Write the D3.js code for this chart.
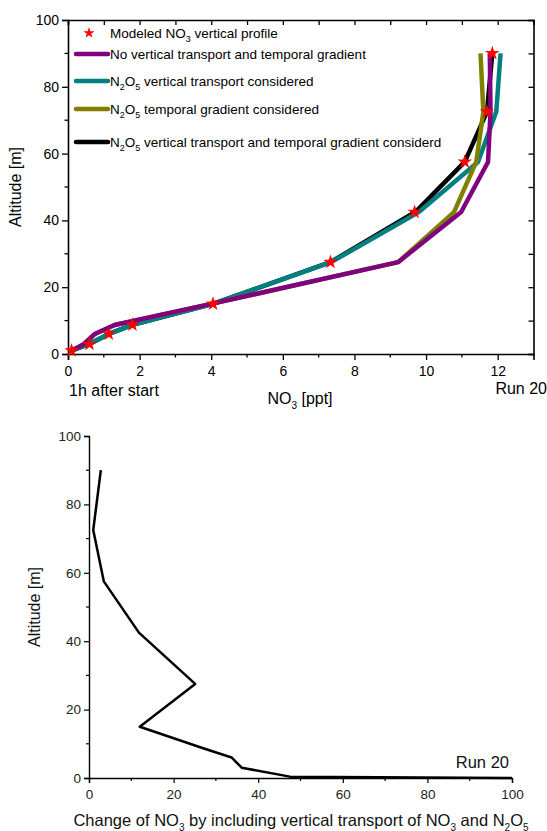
<!DOCTYPE html>
<html>
<head>
<meta charset="utf-8">
<script src="https://cdn.jsdelivr.net/npm/d3@7"></script>
<style>
  body { margin: 0; background: #fff; }
  svg { font-family: "Liberation Sans", Arial, sans-serif; }
</style>
</head>
<body>
<div id="chart"></div>
<script>
// altitude levels of the model [m]
const levels = [1, 3, 6, 8.7, 15, 27.5, 42.5, 57.5, 72.5, 90];

// NO3 [ppt] per scenario
const modeled   = [0.1, 0.6, 1.14, 1.8, 4.05, 7.33, 9.68, 11.08, 11.7, 11.85];
const noTransp  = [0.1, 0.45, 0.75, 1.3, 4.0, 9.22, 10.98, 11.73, 11.8, 11.78];
const vertTransp = [0.1, 0.58, 1.15, 1.8, 4.05, 7.35, 9.8, 11.45, 11.96, 12.08];
const tempGrad  = [0.1, 0.45, 0.75, 1.3, 4.0, 9.22, 10.78, 11.4, 11.6, 11.52];
const bothConsidered = [0.1, 0.6, 1.14, 1.8, 4.05, 7.33, 9.7, 11.08, 11.7, 11.85];

// lower panel: change of NO3 [%]
const changeAlt = [90, 72.5, 57.5, 42.5, 27.5, 15, 8.7, 6, 3, 0.4, 0];
const changeVal = [2.8, 1.0, 3.5, 11.8, 25.1, 12.0, 27.0, 33.7, 36.1, 47.5, 100];

const xTicksTop = [0, 2, 4, 6, 8, 10, 12];
const yTicks = [0, 20, 40, 60, 80, 100];
const xTicksBottom = [0, 20, 40, 60, 80, 100];

const W = 547, H = 831;

const svg = d3.select("#chart").append("svg")
    .attr("width", W)
    .attr("height", H);

// text with subscripts: parts = [[str, isSub], ...]
function richText(g, parts, subSize) {
    let prevSub = false;
    parts.forEach(p => {
        let t = g.append("tspan").text(p[0]);
        if (p[1]) {
            t.attr("font-size", subSize).attr("dy", prevSub ? 0 : subSize * 0.45);
        } else {
            t.attr("dy", prevSub ? -subSize * 0.45 : 0);
        }
        prevSub = !!p[1];
    });
    return g;
}

/* ---------- upper panel ---------- */
const mTop = {left: 68, right: 533.5, top: 20, bottom: 354};

const x1 = d3.scaleLinear().domain([0, 13]).range([mTop.left, mTop.right]);
const y1 = d3.scaleLinear().domain([0, 100]).range([mTop.bottom, mTop.top]);

const gTop = svg.append("g");

// box + ticks
gTop.append("g")
    .attr("transform", `translate(0,${mTop.bottom})`)
    .call(d3.axisBottom(x1).tickValues(xTicksTop).tickSize(6).tickPadding(6))
    .call(g => g.selectAll(".minor").data(d3.range(1, 13, 2)).enter()
        .append("line").attr("class", "minor")
        .attr("x1", d => x1(d)).attr("x2", d => x1(d))
        .attr("y1", 0).attr("y2", 3.5).attr("stroke", "#000").attr("stroke-width", 1.3));

gTop.append("g")
    .attr("transform", `translate(${mTop.left},0)`)
    .call(d3.axisLeft(y1).tickValues(yTicks).tickSize(6).tickPadding(3))
    .call(g => g.selectAll(".minor").data(d3.range(10, 100, 20)).enter()
        .append("line").attr("class", "minor")
        .attr("y1", d => y1(d)).attr("y2", d => y1(d))
        .attr("x1", 0).attr("x2", -3.5).attr("stroke", "#000").attr("stroke-width", 1.3));

gTop.append("g")
    .attr("transform", `translate(0,${mTop.top})`)
    .call(d3.axisBottom(x1).tickValues(d3.range(0, 14, 1)).tickSize(5).tickFormat(""));

gTop.append("g")
    .attr("transform", `translate(${mTop.right},0)`)
    .call(d3.axisLeft(y1).tickValues(d3.range(0, 101, 10)).tickSize(5).tickFormat(""));

gTop.selectAll(".domain").attr("stroke-width", 1.6).attr("stroke", "#000");
gTop.selectAll(".tick line").attr("stroke-width", 1.3);
gTop.selectAll(".tick text").attr("font-size", 14).attr("fill", "#000")
    .attr("font-family", "Liberation Sans, Arial, sans-serif");

// lines
const series = [
    {name: "both", vals: bothConsidered, color: "#000000"},
    {name: "vert", vals: vertTransp, color: "#008080"},
    {name: "temp", vals: tempGrad, color: "#808000"},
    {name: "none", vals: noTransp, color: "#800080"}
];

const line1 = d3.line()
    .x(d => x1(d[0]))
    .y(d => y1(d[1]));

gTop.selectAll(".profile")
    .data(series)
    .enter()
    .append("path")
    .attr("class", "profile")
    .attr("d", s => line1(s.vals.map((v, i) => [v, levels[i]])))
    .attr("fill", "none")
    .attr("stroke", s => s.color)
    .attr("stroke-width", 4.5)
    .attr("stroke-linejoin", "round");

const star = d3.symbol().type(d3.symbolStar).size(65);
gTop.selectAll(".star")
    .data(modeled.map((v, i) => [v, levels[i]]))
    .enter()
    .append("path")
    .attr("class", "star")
    .attr("d", star)
    .attr("transform", d => `translate(${x1(d[0])},${y1(d[1])})`)
    .attr("fill", "#ff0000");

// legend
const legend = gTop.append("g").attr("font-size", 13.5).attr("fill", "#000");
legend.append("path")
    .attr("d", d3.symbol().type(d3.symbolStar).size(40))
    .attr("transform", "translate(89,33)")
    .attr("fill", "#ff0000");

const legendRows = [
    {y: 33, color: null, parts: [["Modeled NO", 0], ["3", 1], [" vertical profile", 0]]},
    {y: 54, color: "#800080", parts: [["No vertical transport and temporal gradient", 0]]},
    {y: 81, color: "#008080", parts: [["N", 0], ["2", 1], ["O", 0], ["5", 1], [" vertical transport considered", 0]]},
    {y: 109, color: "#808000", parts: [["N", 0], ["2", 1], ["O", 0], ["5", 1], [" temporal gradient considered", 0]]},
    {y: 142, color: "#000000", parts: [["N", 0], ["2", 1], ["O", 0], ["5", 1], [" vertical transport and temporal gradient considerd", 0]]}
];

legendRows.forEach(r => {
    if (r.color) {
        legend.append("line")
            .attr("x1", 76).attr("x2", 108)
            .attr("y1", r.y).attr("y2", r.y)
            .attr("stroke", r.color).attr("stroke-width", 4.5)
            .attr("stroke-linecap", "round");
    }
    let t = legend.append("text").attr("x", 110).attr("y", r.y + 4.5);
    richText(t, r.parts, 9);
});

// axis titles
gTop.append("text")
    .attr("transform", `translate(21,${(mTop.top + mTop.bottom) / 2}) rotate(-90)`)
    .attr("text-anchor", "middle")
    .attr("font-size", 16)
    .text("Altitude [m]");

richText(gTop.append("text")
    .attr("x", 300).attr("y", 404)
    .attr("text-anchor", "middle")
    .attr("font-size", 16), [["NO", 0], ["3", 1], [" [ppt]", 0]], 10);

gTop.append("text")
    .attr("x", 69).attr("y", 396)
    .attr("font-size", 16)
    .text("1h after start");

gTop.append("text")
    .attr("x", 547).attr("y", 394)
    .attr("text-anchor", "end")
    .attr("font-size", 16)
    .text("Run 20");

/* ---------- lower panel ---------- */
const mBot = {left: 89, right: 512, top: 436, bottom: 778};

const x2 = d3.scaleLinear().domain([0, 100]).range([mBot.left, mBot.right]);
const y2 = d3.scaleLinear().domain([0, 100]).range([mBot.bottom, mBot.top]);

const gBot = svg.append("g");

gBot.append("g")
    .attr("transform", `translate(0,${mBot.bottom})`)
    .call(d3.axisBottom(x2).tickValues(xTicksBottom).tickSize(5).tickPadding(6))
    .call(g => g.selectAll(".minor").data(d3.range(10, 100, 20)).enter()
        .append("line").attr("class", "minor")
        .attr("x1", d => x2(d)).attr("x2", d => x2(d))
        .attr("y1", 0).attr("y2", 3).attr("stroke", "#000").attr("stroke-width", 1.2));

gBot.append("g")
    .attr("transform", `translate(${mBot.left},0)`)
    .call(d3.axisLeft(y2).tickValues(yTicks).tickSize(5).tickPadding(3))
    .call(g => g.selectAll(".minor").data(d3.range(10, 100, 20)).enter()
        .append("line").attr("class", "minor")
        .attr("y1", d => y2(d)).attr("y2", d => y2(d))
        .attr("x1", 0).attr("x2", -3).attr("stroke", "#000").attr("stroke-width", 1.2));

gBot.selectAll(".domain").attr("stroke-width", 1.4).attr("stroke", "#000");
gBot.selectAll(".tick line").attr("stroke-width", 1.2);
gBot.selectAll(".tick text").attr("font-size", 13.5).attr("fill", "#222")
    .attr("font-family", "Liberation Sans, Arial, sans-serif");

const line2 = d3.line()
    .x(d => x2(d[0]))
    .y(d => y2(d[1]));

gBot.append("path")
    .datum(changeVal.map((v, i) => [v, changeAlt[i]]))
    .attr("d", line2)
    .attr("fill", "none")
    .attr("stroke", "#000")
    .attr("stroke-width", 2.5)
    .attr("stroke-linejoin", "round");

gBot.append("text")
    .attr("transform", `translate(40,${(mBot.top + mBot.bottom) / 2}) rotate(-90)`)
    .attr("text-anchor", "middle")
    .attr("font-size", 16)
    .attr("fill", "#111")
    .text("Altitude [m]");

gBot.append("text")
    .attr("x", 509).attr("y", 768)
    .attr("text-anchor", "end")
    .attr("font-size", 16.5)
    .attr("fill", "#111")
    .text("Run 20");

richText(gBot.append("text")
    .attr("x", 301).attr("y", 826)
    .attr("text-anchor", "middle")
    .attr("font-size", 16.5)
    .attr("fill", "#111"),
    [["Change of NO", 0], ["3", 1], [" by including vertical transport of NO", 0], ["3", 1],
     [" and N", 0], ["2", 1], ["O", 0], ["5", 1]], 10);
</script>
</body>
</html>
